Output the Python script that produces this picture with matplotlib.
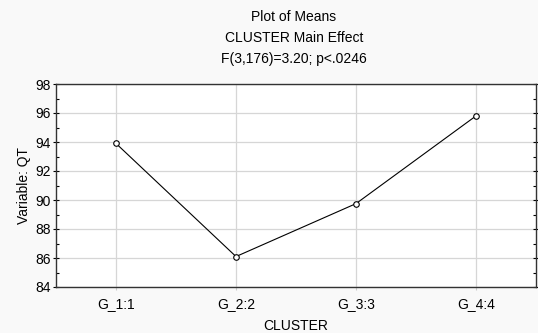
import matplotlib
matplotlib.use("Agg")
import matplotlib.pyplot as plt
from matplotlib.ticker import MultipleLocator

categories = ["G_1:1", "G_2:2", "G_3:3", "G_4:4"]
means = [93.9, 86.1, 89.75, 95.8]
title_lines = ["Plot of Means", "CLUSTER Main Effect", "F(3,176)=3.20; p<.0246"]

plt.rcParams['font.family'] = ['Liberation Sans', 'DejaVu Sans']

fig = plt.figure(figsize=(5.38, 3.33), dpi=100, facecolor='#f9f9f9')
ax = fig.add_axes([56/538, 1-287/333, (536-56)/538, (287-84)/333])
ax.set_facecolor('white')

x = list(range(len(categories)))
ax.plot(x, means, color='black', lw=0.8, marker='o', markersize=4,
        markerfacecolor='white', markeredgecolor='black', markeredgewidth=0.8, zorder=3)

ax.set_xlim(-0.5, len(categories) - 0.5)
ax.set_ylim(84, 98)
ax.set_xticks(x)
ax.set_xticklabels(categories)
ax.yaxis.set_major_locator(MultipleLocator(2))
ax.yaxis.set_minor_locator(MultipleLocator(1))
ax.grid(True, which='major', color='#d6d6d6', lw=0.9, ls='-')
ax.set_axisbelow(True)
ax.tick_params(axis='y', which='major', direction='inout', length=4, width=0.8,
               labelsize=10, right=True, pad=2)
ax.tick_params(axis='y', which='minor', direction='in', length=2, width=0.8, right=True)
ax.tick_params(axis='x', which='major', direction='out', length=2, width=0.8,
               labelsize=10, pad=5, color='#cccccc')
for s in ax.spines.values():
    s.set_color('#333333')
    s.set_linewidth(1.0)

ax.set_ylabel("Variable: QT", fontsize=10, labelpad=3)
ax.set_xlabel("CLUSTER", fontsize=10, labelpad=6)

for i, t in enumerate(title_lines):
    fig.text(294/538, 1-(17+21*i)/333, t, ha='center', va='center', fontsize=10)

fig.savefig("out.png", dpi=100, facecolor=fig.get_facecolor())
